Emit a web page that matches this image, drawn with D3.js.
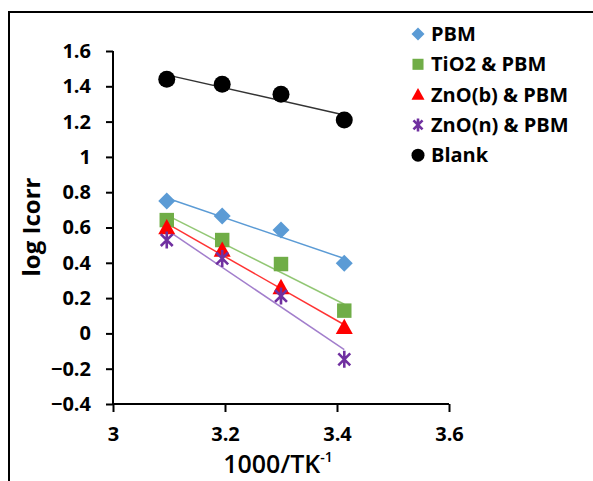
<!DOCTYPE html>
<html><head><meta charset="utf-8">
<script src="https://cdn.jsdelivr.net/npm/d3@7"></script>
<style>body{margin:0;background:#fff;} svg{display:block;}</style>
</head><body>
<script>
const xValues = [3.096, 3.195, 3.300, 3.413];
const seriesNames = ["PBM", "TiO2 & PBM", "ZnO(b) & PBM", "ZnO(n) & PBM", "Blank"];
const pbm   = [0.750, 0.665, 0.586, 0.397];
const tio2  = [0.642, 0.529, 0.393, 0.129];
const znob  = [0.600, 0.473, 0.261, 0.035];
const znon  = [0.529, 0.425, 0.212, -0.147];
const blank = [1.440, 1.411, 1.355, 1.209];
const xTicks = [3, 3.2, 3.4, 3.6];
const yTicks = [-0.4, -0.2, 0, 0.2, 0.4, 0.6, 0.8, 1, 1.2, 1.4, 1.6];

const W = 593, H = 481;
const svg = d3.select("body").append("svg").attr("width", W).attr("height", H);
const FONT = "'Open Sans', 'Liberation Sans', sans-serif";

svg.append("rect").attr("x", 9).attr("y", 12).attr("width", 700).attr("height", 600)
  .attr("fill", "none").attr("stroke", "#000").attr("stroke-width", 2);

const x = d3.scaleLinear().domain([3, 3.6]).range([113, 449]);
const y = d3.scaleLinear().domain([-0.4, 1.6]).range([404, 51]);

const series = [
  {name: seriesNames[0], vals: pbm,   color: "#5B9BD5", line: "#5B9BD5", shape: "diamond"},
  {name: seriesNames[1], vals: tio2,  color: "#70AD47", line: "#92C774", shape: "square"},
  {name: seriesNames[2], vals: znob,  color: "#FF0000", line: "#FF3333", shape: "triangle"},
  {name: seriesNames[3], vals: znon,  color: "#7030A0", line: "#A27ECC", shape: "star"},
  {name: seriesNames[4], vals: blank, color: "#000000", line: "#333333", shape: "circle"}
];

// axes
const yAxis = d3.axisLeft(y).tickValues(yTicks).tickSize(7).tickPadding(15)
  .tickFormat(d => d3.format("")(Math.round(d*10)/10));
const gy = svg.append("g").attr("transform", `translate(${x(3)},0)`).call(yAxis);
const xAxis = d3.axisBottom(x).tickValues(xTicks).tickSize(8).tickPadding(15)
  .tickFormat(d => String(d));
const gx = svg.append("g").attr("transform", `translate(0,${y(-0.4)})`).call(xAxis);
[gx, gy].forEach(g => {
  g.select(".domain").attr("stroke", "#000").attr("stroke-width", 2)
    .attr("d", g === gx ? `M${x(3)},0H${x(3.6)}` : `M0,${y(-0.4)}V${y(1.6)}`);
  g.selectAll(".tick line").attr("stroke", "#000").attr("stroke-width", 2);
  g.selectAll(".tick text").attr("font-family", FONT).attr("font-weight", 700)
    .attr("font-size", 20).attr("fill", "#000");
});

// trend lines (least squares)
function fit(xs, ys) {
  const mx = d3.mean(xs), my = d3.mean(ys);
  let sxy = 0, sxx = 0;
  xs.forEach((v, i) => { sxy += (v - mx) * (ys[i] - my); sxx += (v - mx) ** 2; });
  const b = sxy / sxx; return {a: my - b * mx, b};
}
const xmin = d3.min(xValues), xmax = d3.max(xValues);
series.forEach(s => {
  const f = fit(xValues, s.vals);
  svg.append("line")
    .attr("x1", x(xmin)).attr("y1", y(f.a + f.b * xmin))
    .attr("x2", x(xmax)).attr("y2", y(f.a + f.b * xmax))
    .attr("stroke", s.line).attr("stroke-width", 1.5);
});

function drawMarker(g, shape, color, cx, cy, s) {
  if (shape === "diamond") {
    g.append("path").attr("d", `M${cx},${cy-s}L${cx+s},${cy}L${cx},${cy+s}L${cx-s},${cy}Z`).attr("fill", color);
  } else if (shape === "square") {
    g.append("rect").attr("x", cx - s*0.85).attr("y", cy - s*0.85).attr("width", s*1.7).attr("height", s*1.7).attr("fill", color);
  } else if (shape === "triangle") {
    g.append("path").attr("d", `M${cx},${cy-s}L${cx+s},${cy+s*0.8}L${cx-s},${cy+s*0.8}Z`).attr("fill", color);
  } else if (shape === "circle") {
    g.append("circle").attr("cx", cx).attr("cy", cy).attr("r", s).attr("fill", color);
  } else if (shape === "star") {
    const a = s*0.7;
    g.append("path").attr("d", `M${cx-a},${cy-a}L${cx+a},${cy+a}M${cx+a},${cy-a}L${cx-a},${cy+a}M${cx},${cy-s}V${cy+s}`)
      .attr("stroke", color).attr("stroke-width", 2.6).attr("fill", "none");
  }
}

// points
series.forEach(s => {
  const g = svg.append("g");
  s.vals.forEach((v, j) => drawMarker(g, s.shape, s.color, x(xValues[j]), y(v), 8.5));
});

// legend
series.forEach((s, i) => {
  const cy = 34 + i * 30.3;
  const g = svg.append("g");
  drawMarker(g, s.shape, s.color, 418, cy, 6.5);
  g.append("text").attr("x", 431).attr("y", cy).attr("dy", "0.35em")
    .attr("font-family", FONT).attr("font-weight", 700).attr("font-size", 20)
    .attr("fill", "#000").text(s.name);
});

// axis titles
const xt = svg.append("text").attr("x", 278).attr("y", 473).attr("text-anchor", "middle")
  .attr("font-family", FONT).attr("font-weight", 600).attr("font-size", 25).attr("fill", "#000");
xt.append("tspan").text("1000/TK");
xt.append("tspan").attr("font-size", 14).attr("dy", -11).text("-1");

svg.append("text").attr("transform", "translate(40,227) rotate(-90)").attr("text-anchor", "middle")
  .attr("font-family", FONT).attr("font-weight", 700).attr("font-size", 24).attr("fill", "#000")
  .text("log Icorr");
</script>
</body></html>
